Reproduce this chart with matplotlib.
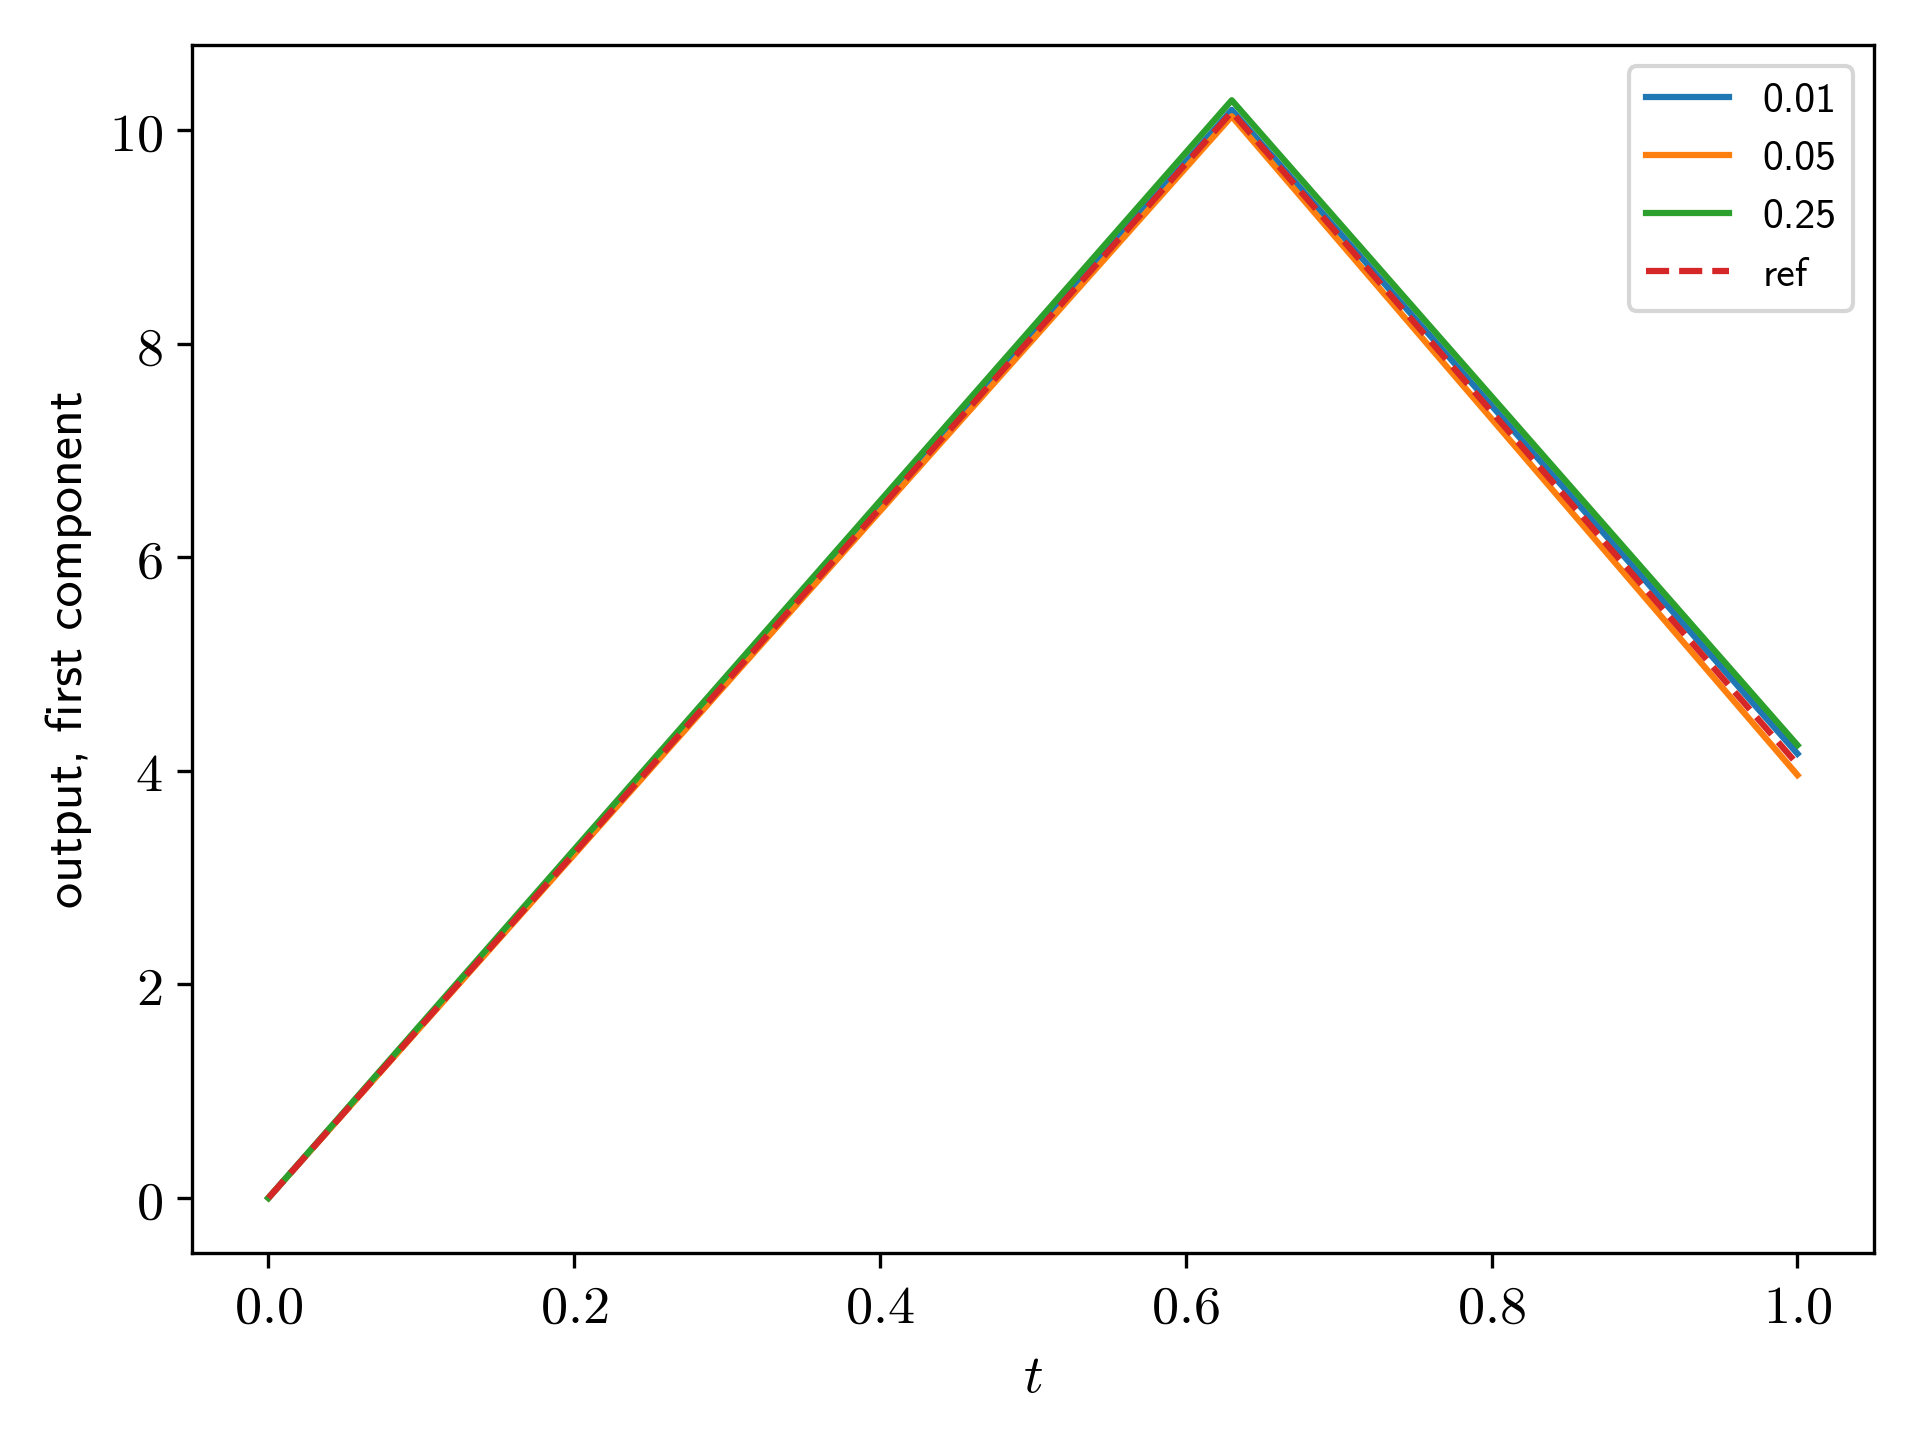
import matplotlib
matplotlib.use("Agg")
import matplotlib.pyplot as plt
from matplotlib.ticker import FuncFormatter

plt.rcParams['mathtext.fontset'] = 'cm'
plt.rcParams['axes.unicode_minus'] = False

# data
t = [0.0, 0.63, 1.0]
y_001 = [0.0, 10.19, 4.16]
y_005 = [0.0, 10.13, 3.96]
y_025 = [0.0, 10.28, 4.24]
y_ref = [0.0, 10.17, 4.06]
labels = ['0.01', '0.05', '0.25']

fig, ax = plt.subplots(figsize=(6.4, 4.8), dpi=300)

for y, lab in zip([y_001, y_005, y_025], labels):
    ax.plot(t, y, '-', label=lab)
ax.plot(t, y_ref, '--', label='ref')

ax.xaxis.set_major_formatter(FuncFormatter(lambda v, p: f'${v:.1f}$'))
ax.yaxis.set_major_formatter(FuncFormatter(lambda v, p: f'${v:.0f}$'))
ax.tick_params(labelsize=13)
ax.set_xlabel('$t$', fontsize=13)
ax.set_ylabel('output, first component', family='cmss10', fontsize=12.5)
ax.legend(loc='upper right', prop={'family': 'cmss10', 'size': 10})

fig.subplots_adjust(left=0.100, right=0.976, top=0.9685, bottom=0.130)
fig.savefig('out.png')
